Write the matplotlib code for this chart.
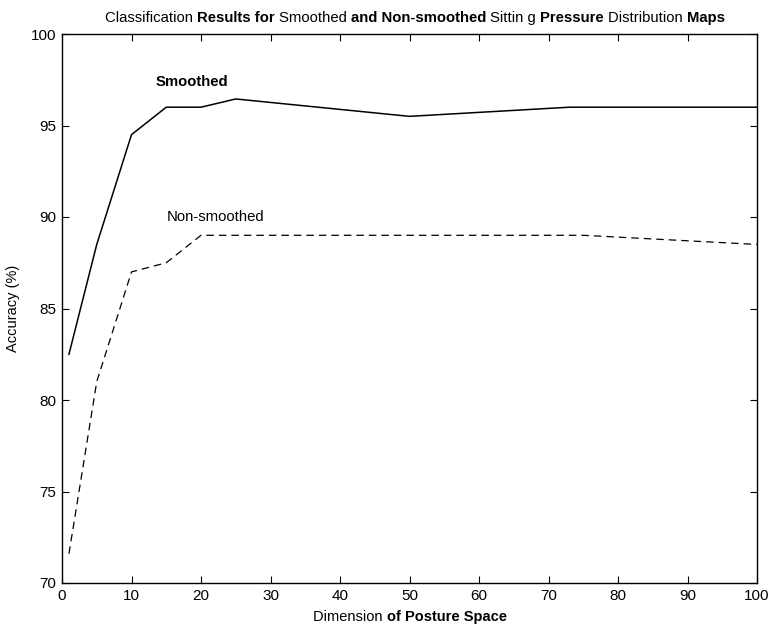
import matplotlib
matplotlib.use("Agg")
import matplotlib.pyplot as plt

plt.rcParams['font.family'] = ['Liberation Sans', 'DejaVu Sans']

# data
dims_s = [1, 5, 10, 15, 20, 25, 50, 73, 100]
acc_s = [82.5, 88.5, 94.5, 96.0, 96.0, 96.45, 95.5, 96.0, 96.0]
dims_n = [1, 5, 10, 15, 20, 75, 100]
acc_n = [71.6, 81.0, 87.0, 87.5, 89.0, 89.0, 88.5]

xticks = list(range(0, 101, 10))
yticks = list(range(70, 101, 5))

title_parts = [("Classification ", "normal"), ("Results for ", "bold"),
               ("Smoothed ", "normal"), ("and Non-smoothed ", "bold"),
               ("Sittin g ", "normal"), ("Pressure ", "bold"),
               ("Distribution ", "normal"), ("Maps", "bold")]
xlabel_parts = [("Dimension ", "normal"), ("of Posture Space", "bold")]

W, H = 773, 631
fig = plt.figure(figsize=(W / 100, H / 100), dpi=100)
# axes box in pixels: left 62, right 757, top 34, bottom 583
ax = fig.add_axes([62 / W, (H - 583) / H, (757 - 62) / W, (583 - 34) / H])

ax.plot(dims_s, acc_s, color='black', lw=1.1)
ax.plot(dims_n, acc_n, color='black', lw=0.9, ls=(0, (6, 4)))

ax.text(13.5, 97.4, "Smoothed", fontsize=10.7, fontweight='bold', va='center')
ax.text(15.0, 90.0, "Non-smoothed", fontsize=10.7, va='center')

ax.set_xlim(0, 100)
ax.set_ylim(70, 100)
ax.set_xticks(xticks)
ax.set_yticks(yticks)
ax.tick_params(direction='in', top=True, right=True, labelsize=11, length=5, pad=4)
for s in ax.spines.values():
    s.set_linewidth(1.0)

ax.set_ylabel("Accuracy (%)", fontsize=10.5, labelpad=8)


def mixed_text(parts, x, y, size):
    # lay pieces of different weight side by side, centred on x (pixels)
    r = fig.canvas.get_renderer()
    texts = []
    total = 0
    for s, w in parts:
        t = fig.text(0, 1 - y / H, s, fontsize=size, fontweight=w, va='center')
        wd = t.get_window_extent(r).width
        texts.append((t, wd))
        total += wd
    start = x - total / 2
    for t, wd in texts:
        t.set_x(start / W)
        start += wd


mixed_text(title_parts, 415, 18, 10.7)
mixed_text(xlabel_parts, 410, 617, 10.5)

fig.savefig("out.png", dpi=100)
